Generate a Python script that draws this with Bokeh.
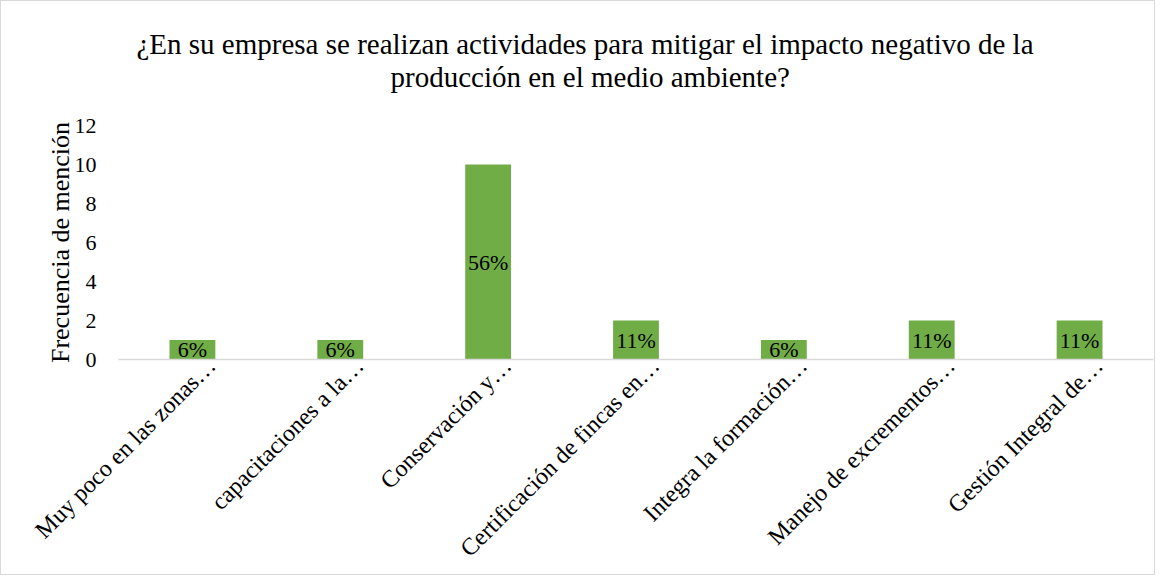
from bokeh.plotting import figure
from bokeh.models import ColumnDataSource, Title, FixedTicker, CustomJSTickFormatter
from bokeh.embed import file_html
from bokeh.resources import INLINE
import math

categories = ["Muy poco en las zonas…", "capacitaciones a la…", "Conservación y…",
              "Certificación de fincas en…", "Integra la formación…",
              "Manejo de excrementos…", "Gestión Integral de…"]
values = [1, 1, 10, 2, 1, 2, 2]
pct_labels = ["6%", "6%", "56%", "11%", "6%", "11%", "11%"]
y_ticks = [0, 2, 4, 6, 8, 10, 12]
title_lines = ["¿En su empresa se realizan actividades para mitigar el impacto negativo de la",
               "producción en el medio ambiente?"]
y_title = "Frecuencia de mención"

FONT = "Liberation Serif"
n = len(categories)
idx = list(range(n))
src = ColumnDataSource(dict(x=idx, val=values, pct=pct_labels,
                            mid=[v / 2 for v in values]))

W, H = 1155, 575
ML, MB, MT = 117, 217, 124
p = figure(x_range=(-0.5, n - 0.5), y_range=(0, 12), width=W, height=H,
           output_backend="svg", toolbar_location=None,
           min_border_left=ML, min_border_right=3, min_border_top=MT, min_border_bottom=MB)
p.title = None
p.styles = {"border": "1px solid #d9d9d9", "box-sizing": "border-box"}
p.outline_line_color = None
p.xgrid.grid_line_color = None
p.ygrid.grid_line_color = None

p.vbar(x="x", top="val", width=0.31, source=src, fill_color="#70AD47", line_color=None)
p.text(x="x", y="mid", text="pct", source=src, text_align="center", text_baseline="middle",
       text_font={"value": FONT}, text_font_size={"value": "22px"}, text_color="#000000")

p.yaxis.ticker = y_ticks
p.yaxis.axis_line_color = None
p.yaxis.major_tick_line_color = None
p.yaxis.minor_tick_line_color = None
p.yaxis.major_label_text_font = FONT
p.yaxis.major_label_text_font_size = "22px"
p.yaxis.major_label_text_color = "#000000"
p.yaxis.major_label_standoff = 16
p.yaxis.axis_label = y_title
p.yaxis.axis_label_text_font = FONT
p.yaxis.axis_label_text_font_style = "normal"
p.yaxis.axis_label_text_font_size = "26px"
p.yaxis.axis_label_text_color = "#000000"
p.yaxis.axis_label_standoff = -3

shift = -0.13
p.xaxis.ticker = FixedTicker(ticks=[i - shift for i in idx])
p.xaxis.formatter = CustomJSTickFormatter(args=dict(labels=categories, shift=shift),
                                          code="return labels[Math.round(tick + shift)] || '';")
p.xaxis.axis_line_color = "#d9d9d9"
p.xaxis.axis_line_width = 1.5
p.xaxis.major_tick_line_color = None
p.xaxis.minor_tick_line_color = None
p.xaxis.major_label_orientation = math.pi / 4
p.xaxis.major_label_text_font = FONT
p.xaxis.major_label_text_font_size = "24px"
p.xaxis.major_label_text_color = "#000000"
p.xaxis.major_label_standoff = -4

# second line sits closest to the frame, first line above it
offsets = [272, 18]
standoffs = [66, -68]
for line, off, so in zip(reversed(title_lines), offsets, standoffs):
    p.add_layout(Title(text=line, align="left", offset=off, text_font=FONT,
                       text_font_size="29px", text_font_style="normal",
                       text_color="#000000", standoff=so), "above")

open("out.html", "w").write(file_html(p, INLINE))
